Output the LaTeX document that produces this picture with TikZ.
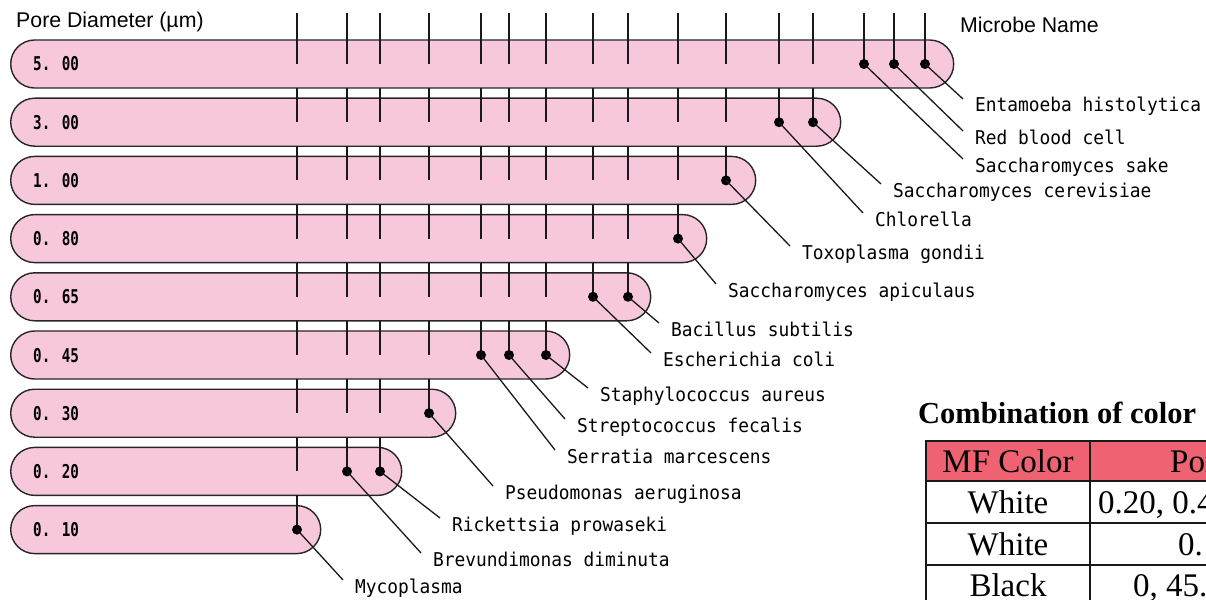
\documentclass[tikz,border=0pt]{standalone}
\usepackage{fontspec}
\setmainfont{Liberation Serif}
\newfontfamily\headsans{Liberation Sans}
\newfontfamily\gothic[FakeStretch=0.94]{DejaVu Sans Mono}
\newfontfamily\gothicnum[FakeStretch=0.75]{DejaVu Sans Mono}
\usepackage{tikz}
\usetikzlibrary{positioning}
\definecolor{pillpink}{RGB}{247,199,220}
\definecolor{headred}{RGB}{238,98,114}
\tikzset{
  pill/.style={draw=black!85, fill=pillpink, line width=1.4pt, rounded corners=24pt,
               minimum height=48pt, inner sep=0pt, anchor=west},
  poretext/.style={inner sep=0pt, text height=14pt, text depth=0pt,
                   font=\gothicnum\bfseries\fontsize{19pt}{22pt}\selectfont},
  tick/.style={line width=1.7pt, black!90},
  dotnode/.style={circle, fill=black, inner sep=0pt, minimum size=10pt},
  microbe/.style={anchor=west, inner sep=0pt, text height=14pt, text depth=4pt,
                  font=\gothic\fontsize{19pt}{22pt}\selectfont},
  leader/.style={line width=1.3pt, black!90},
  headtext/.style={anchor=west, inner sep=0pt, font=\headsans\fontsize{21.3pt}{24pt}\selectfont},
  tabtext/.style={inner sep=0pt, text height=22pt, text depth=0pt, font=\fontsize{33pt}{36pt}\selectfont},
  tabline/.style={line width=1.6pt, black!90},
}

\begin{document}
\begin{tikzpicture}[x=1pt, y=-1pt]
\useasboundingbox (0,0) rectangle (1206,599);

%Headings
\node[headtext] (porehead) at (16,22) {Pore Diameter (µm)};
\node[headtext] (namehead) at (960,25) {Microbe Name};

%Pore rows
\node[pill, minimum width=943pt] (p500) at (10,64) {};
\node[pill, minimum width=830pt] (p300) at (10,122.2) {};
\node[pill, minimum width=745pt] (p100) at (10,180.4) {};
\node[pill, minimum width=696pt] (p080) at (10,238.6) {};
\node[pill, minimum width=640pt] (p065) at (10,296.8) {};
\node[pill, minimum width=559pt] (p045) at (10,355) {};
\node[pill, minimum width=445pt] (p030) at (10,413.2) {};
\node[pill, minimum width=391pt] (p020) at (10,471.4) {};
\node[pill, minimum width=310pt] (p010) at (10,529.6) {};

\node[poretext, right=23pt of p500.west] (t500) {5. 00};
\node[poretext, right=23pt of p300.west] (t300) {3. 00};
\node[poretext, right=23pt of p100.west] (t100) {1. 00};
\node[poretext, right=23pt of p080.west] (t080) {0. 80};
\node[poretext, right=23pt of p065.west] (t065) {0. 65};
\node[poretext, right=23pt of p045.west] (t045) {0. 45};
\node[poretext, right=23pt of p030.west] (t030) {0. 30};
\node[poretext, right=23pt of p020.west] (t020) {0. 20};
\node[poretext, right=23pt of p010.west] (t010) {0. 10};

%Ticks, one piece per row down to the dot
\foreach \x/\n in {297/8,347/7,380/7,429/6,481/5,509/5,546/5,593/4,628/4,678/3,726/2,779/1,813/1,864/0,894/0,925/0}
  \foreach \r in {0,...,\n}
    \draw[tick] (\x,{ifthenelse(\r==0,13,29.8+58.2*\r)}) -- (\x,{64+58.2*\r});

%Dots
\node[dotnode] (ent) at (925,64) {};
\node[dotnode] (rbc) at (894,64) {};
\node[dotnode] (sake) at (864,64) {};
\node[dotnode] (cer) at (813,122.2) {};
\node[dotnode] (chl) at (779,122.2) {};
\node[dotnode] (tox) at (726,180.4) {};
\node[dotnode] (api) at (678,238.6) {};
\node[dotnode] (bac) at (628,296.8) {};
\node[dotnode] (eco) at (593,296.8) {};
\node[dotnode] (sta) at (546,355) {};
\node[dotnode] (str) at (509,355) {};
\node[dotnode] (ser) at (481,355) {};
\node[dotnode] (pse) at (429,413.2) {};
\node[dotnode] (ric) at (380,471.4) {};
\node[dotnode] (bre) at (347,471.4) {};
\node[dotnode] (myc) at (297,529.6) {};

%Microbe names
\node[microbe] (entamoeba) at (975,107) {Entamoeba histolytica};
\node[microbe] (redcell) at (975,139) {Red blood cell};
\node[microbe] (sakename) at (975,167) {Saccharomyces sake};
\node[microbe] (cerevisiae) at (893,192) {Saccharomyces cerevisiae};
\node[microbe] (chlorella) at (875,221) {Chlorella};
\node[microbe] (toxo) at (802,254) {Toxoplasma gondii};
\node[microbe] (apiculaus) at (728,292) {Saccharomyces apiculaus};
\node[microbe] (bacillus) at (671,331) {Bacillus subtilis};
\node[microbe] (ecoli) at (663,361) {Escherichia coli};
\node[microbe] (staph) at (600,396) {Staphylococcus aureus};
\node[microbe] (strepto) at (577,427) {Streptococcus fecalis};
\node[microbe] (serratia) at (567,458) {Serratia marcescens};
\node[microbe] (pseudo) at (505,494) {Pseudomonas aeruginosa};
\node[microbe] (rickettsia) at (452,526) {Rickettsia prowaseki};
\node[microbe] (brevundi) at (433,561) {Brevundimonas diminuta};
\node[microbe] (myco) at (355,588) {Mycoplasma};

%Leaders
\draw[leader] (ent.center) -- ([shift={(-12pt,8pt)}]entamoeba.west);
\draw[leader] (rbc.center) -- ([shift={(-12pt,8pt)}]redcell.west);
\draw[leader] (sake.center) -- ([shift={(-12pt,8pt)}]sakename.west);
\draw[leader] (cer.center) -- ([shift={(-12pt,8pt)}]cerevisiae.west);
\draw[leader] (chl.center) -- ([shift={(-12pt,8pt)}]chlorella.west);
\draw[leader] (tox.center) -- ([shift={(-12pt,8pt)}]toxo.west);
\draw[leader] (api.center) -- ([shift={(-12pt,8pt)}]apiculaus.west);
\draw[leader] (bac.center) -- ([shift={(-12pt,8pt)}]bacillus.west);
\draw[leader] (eco.center) -- ([shift={(-12pt,8pt)}]ecoli.west);
\draw[leader] (sta.center) -- ([shift={(-12pt,8pt)}]staph.west);
\draw[leader] (str.center) -- ([shift={(-12pt,8pt)}]strepto.west);
\draw[leader] (ser.center) -- ([shift={(-12pt,8pt)}]serratia.west);
\draw[leader] (pse.center) -- ([shift={(-12pt,8pt)}]pseudo.west);
\draw[leader] (ric.center) -- ([shift={(-12pt,8pt)}]rickettsia.west);
\draw[leader] (bre.center) -- ([shift={(-12pt,8pt)}]brevundi.west);
\draw[leader] (myc.center) -- ([shift={(-12pt,8pt)}]myco.west);

%Colour table
\node[anchor=west, inner sep=0pt, text height=20pt, text depth=0pt,
      font=\bfseries\fontsize{30.5pt}{33pt}\selectfont] (tabtitle) at (918,413) {Combination of color};
\fill[headred] (926,441) rectangle (1215,481);
\draw[tabline] (926,610) -- (926,441) -- (1215,441);
\draw[tabline] (926,481) -- (1215,481);
\draw[tabline] (926,523) -- (1215,523);
\draw[tabline] (926,565) -- (1215,565);
\draw[tabline] (1090,441) -- (1090,610);
\node[tabtext] (mfhead) at (1008,461) {MF Color};
\node[tabtext] (white1) at (1008,502) {White};
\node[tabtext] (white2) at (1008,544) {White};
\node[tabtext] (black1) at (1008,585) {Black};
\node[tabtext, anchor=west] (porehead2) at (1170,461) {Por};
\node[tabtext, anchor=west] (size1) at (1098,502) {0.20, 0.4};
\node[tabtext, anchor=west] (size2) at (1178,544) {0.};
\node[tabtext, anchor=west] (size3) at (1133,585) {0, 45.};
\end{tikzpicture}
\end{document}
